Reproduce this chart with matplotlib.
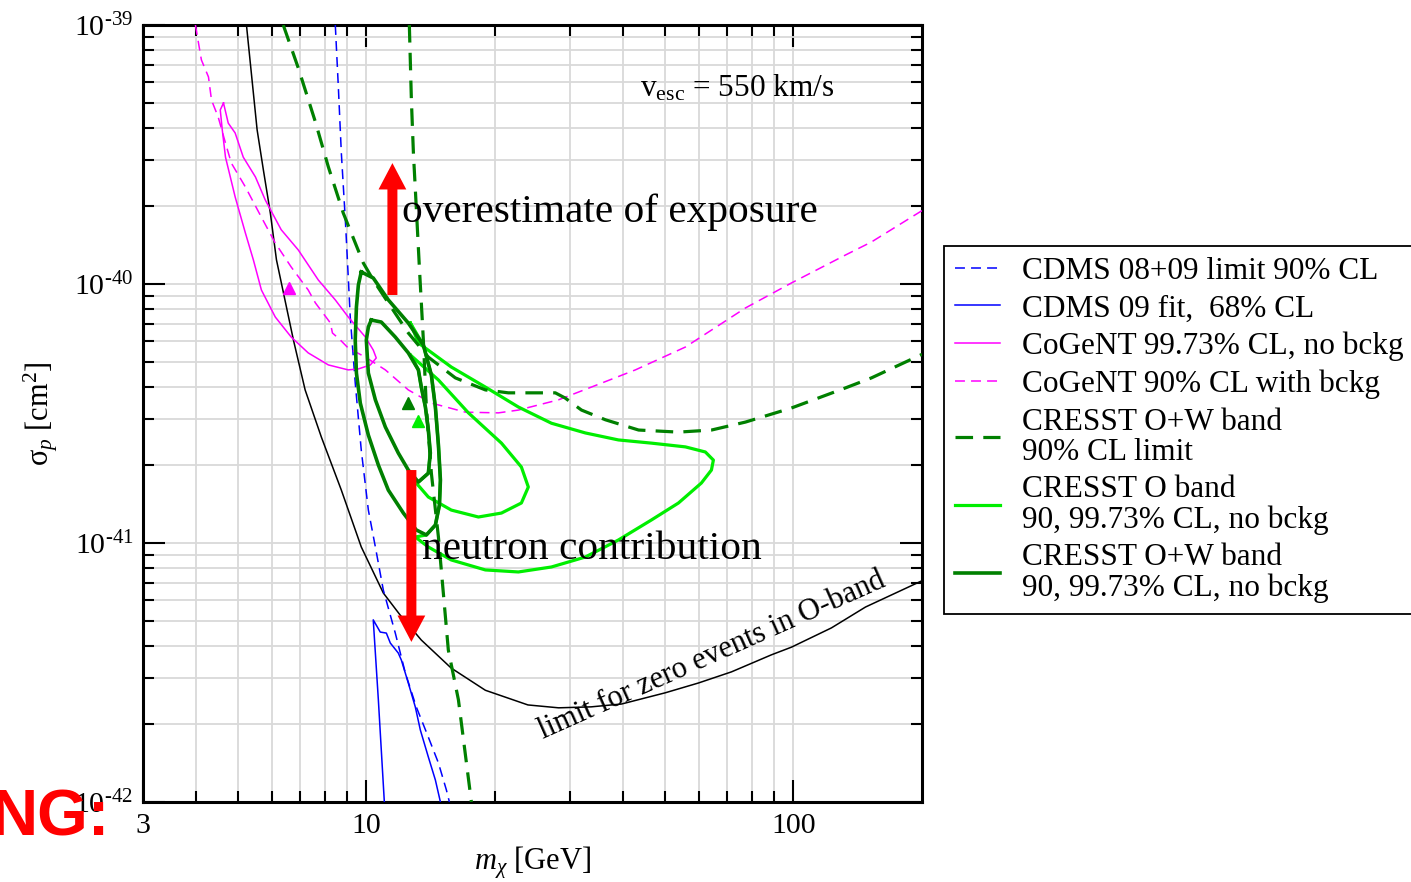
import numpy as np
import matplotlib
matplotlib.use("Agg")
import matplotlib.pyplot as plt
from matplotlib.ticker import FixedLocator, FixedFormatter, NullFormatter

plt.rcParams['font.family'] = ['Liberation Serif', 'DejaVu Serif']
plt.rcParams['mathtext.fontset'] = 'custom'
plt.rcParams['mathtext.rm'] = 'Liberation Serif'
plt.rcParams['mathtext.it'] = 'Liberation Serif:italic'
plt.rcParams['mathtext.bf'] = 'Liberation Serif:bold'

# cross sections are given in units of 1e-40 cm^2, masses in GeV
UNIT = 1e-40

# limit for zero events in the O-band (black)
zero_m = [5.24, 5.55, 5.74, 5.96, 6.16, 6.75, 7.19, 7.85, 8.74, 9.73, 10.96, 12.0, 13.45,
          15.8, 19.0, 23.9, 28.2, 33.6, 39.6, 50.1, 59.9, 71.6, 88.8, 98.9, 122.7, 147.5, 200]
zero_s = [10.0, 3.94, 2.76, 1.88, 1.24, 0.608, 0.390, 0.256, 0.160, 0.0966, 0.0641, 0.0527,
          0.0422, 0.0329, 0.0270, 0.0237, 0.0231, 0.0233, 0.0239, 0.0264, 0.0288, 0.0318,
          0.0370, 0.0396, 0.0470, 0.0566, 0.0715]

# CDMS 08+09 limit, 90% CL
cdms_lim_m = [8.46, 8.60, 8.74, 8.93, 9.03, 9.17, 9.42, 9.73, 10.11, 10.50, 10.96, 11.69,
              12.34, 13.09, 13.97, 14.75, 15.40, 15.65]
cdms_lim_s = [10.0, 5.76, 3.20, 1.77, 1.238, 0.746, 0.415, 0.2286, 0.134, 0.0965, 0.0658,
              0.0449, 0.0315, 0.0233, 0.0178, 0.01415, 0.01112, 0.01]

# CDMS 09 fit, 68% CL
cdms_fit_m = [11.02, 10.67, 10.38, 10.78, 11.14, 11.38, 11.88, 12.08, 12.54, 13.02, 13.38,
              13.97, 14.51, 14.91]
cdms_fit_s = [0.01, 0.0248, 0.0505, 0.0453, 0.0449, 0.0411, 0.0376, 0.0353, 0.0288, 0.0233,
              0.01897, 0.01492, 0.01216, 0.01]

# CoGeNT 99.73% CL, no background
cogent_m = [4.63, 4.75, 4.93, 5.15, 5.50, 5.80, 6.32, 6.93, 7.72, 8.46, 9.07, 9.95, 10.38,
            10.55, 10.22, 9.58, 9.07, 8.15, 7.31, 6.67, 6.12, 5.68, 5.44, 5.21, 4.93, 4.68,
            4.60, 4.55, 4.63]
cogent_s = [5.00, 4.18, 3.83, 3.09, 2.59, 2.11, 1.62, 1.353, 1.036, 0.868, 0.746, 0.624,
            0.556, 0.518, 0.487, 0.470, 0.466, 0.487, 0.542, 0.624, 0.746, 0.948, 1.238,
            1.574, 2.17, 3.09, 3.93, 4.70, 5.00]

# CoGeNT 90% CL with background
cogent_bg_m = [3.98, 4.11, 4.27, 4.34, 4.50, 4.68, 4.83, 5.21, 5.68, 6.12, 6.67, 7.31, 7.60,
               8.24, 8.33, 8.69, 9.07, 9.95, 11.08, 12.54, 14.20, 17.06, 20.38, 22.70, 28.17,
               33.65, 42.66, 55.86, 77.2, 98.9, 132.4, 152.3, 200]
cogent_bg_s = [10.0, 7.33, 6.30, 5.13, 4.41, 3.50, 2.93, 2.37, 1.81, 1.44, 1.163, 0.948,
               0.845, 0.707, 0.647, 0.608, 0.566, 0.522, 0.466, 0.390, 0.347, 0.320, 0.318,
               0.326, 0.357, 0.400, 0.466, 0.571, 0.808, 1.009, 1.294, 1.453, 1.92]

# CRESST O+W band, 90% CL limit (two branches)
cresst_lim_m = [6.39, 6.93, 7.60, 8.15, 8.83, 9.84, 10.38, 11.26, 12.54, 13.97, 16.16, 19.0,
                21.5, 25.7, 27.7, 29.2, 31.9, 36.3, 43.4, 53.8, 64.3, 77.2, 98.9, 132.4,
                152.3, 200]
cresst_lim_s = [10.0, 6.82, 4.22, 2.83, 1.88, 1.205, 1.036, 0.845, 0.647, 0.522, 0.434,
                0.390, 0.380, 0.380, 0.380, 0.363, 0.326, 0.299, 0.273, 0.268, 0.273, 0.293,
                0.332, 0.397, 0.434, 0.535]
cresst_lim2_m = [12.61, 12.75, 12.89, 13.09, 13.31, 13.60, 13.82, 14.20, 14.75, 15.56,
                 16.43, 17.62]
cresst_lim2_s = [10.0, 5.13, 3.20, 1.98, 1.163, 0.608, 0.335, 0.186, 0.1055, 0.0386,
                 0.0248, 0.01]

# CRESST O band, 99.73% and 90% CL contours
o_outer_m = [12.68, 13.24, 15.81, 19.00, 22.70, 27.13, 32.58, 38.92, 46.50, 55.86, 62.2,
             64.95, 64.27, 60.87, 53.80, 46.50, 38.92, 32.58, 27.13, 22.70, 19.00, 15.81,
             13.97, 13.02, 13.82, 14.51, 14.83, 14.91, 14.75, 14.51, 14.20, 13.60, 12.68]
o_outer_s = [0.707, 0.592, 0.478, 0.400, 0.335, 0.290, 0.266, 0.250, 0.243, 0.235, 0.2246,
             0.209, 0.1913, 0.1704, 0.1427, 0.1227, 0.1027, 0.0883, 0.0808, 0.0773, 0.0787,
             0.0860, 0.0965, 0.1055, 0.1074, 0.1173, 0.140, 0.175, 0.239, 0.335, 0.445,
             0.581, 0.707]
o_inner_m = [12.68, 14.75, 17.34, 20.72, 23.07, 23.95, 23.07, 20.72, 18.30, 15.81, 13.97,
             13.09, 13.24, 13.97, 14.12, 13.97, 13.75, 13.45, 13.24, 12.68]
o_inner_s = [0.532, 0.426, 0.318, 0.243, 0.1965, 0.1645, 0.1427, 0.1305, 0.126, 0.134,
             0.1505, 0.1704, 0.172, 0.186, 0.2226, 0.273, 0.335, 0.400, 0.466, 0.532]

# CRESST O+W band, 99.73% and 90% CL contours
ow_outer_m = [9.73, 10.38, 11.26, 12.54, 13.60, 14.20, 14.51, 14.75, 14.91, 14.83, 14.51,
              13.82, 13.09, 12.21, 11.26, 10.67, 10.11, 9.68, 9.48, 9.42, 9.48, 9.58, 9.73]
ow_outer_s = [1.113, 1.055, 0.868, 0.707, 0.581, 0.445, 0.335, 0.239, 0.175, 0.140, 0.1173,
              0.1074, 0.1123, 0.1305, 0.160, 0.200, 0.261, 0.347, 0.453, 0.608, 0.815, 0.991,
              1.113]
ow_inner_m = [10.27, 10.84, 11.69, 12.54, 13.24, 13.45, 13.75, 13.97, 14.12, 13.97, 13.24,
              12.54, 11.88, 11.08, 10.50, 10.11, 10.00, 10.11, 10.27]
ow_inner_s = [0.726, 0.713, 0.624, 0.542, 0.466, 0.400, 0.335, 0.273, 0.2226, 0.186, 0.172,
              0.1913, 0.2226, 0.2805, 0.357, 0.453, 0.608, 0.682, 0.726]

# best-fit points (mass, cross section)
cogent_best = (6.60, 0.965)
ow_best = (12.54, 0.347)
o_best = (13.24, 0.296)

# arrows: mass, tail and head cross section
arrow_up = (11.51, 0.907, 2.93)
arrow_down = (12.75, 0.1913, 0.0415)

x_major = [3, 10, 100]
x_major_labels = ['3', '10', '100']
y_major = [1e-42, 1e-41, 1e-40, 1e-39]
y_major_labels = [r'$10^{\text{-}42}$', r'$10^{\text{-}41}$', r'$10^{\text{-}40}$',
                  r'$10^{\text{-}39}$']


def s(vals):
    return np.asarray(vals) * UNIT


fig = plt.figure(figsize=(14.11, 8.82), dpi=100)
ax = fig.add_axes([143 / 1411, 80 / 882, 779 / 1411, 777 / 882])
ax.set_xscale('log')
ax.set_yscale('log')
ax.set_xlim(3, 200)
ax.set_ylim(1e-42, 1e-39)

BLUE = '#0000ff'
MAG = '#ff00ff'
LIME = '#00ee00'
DGREEN = '#008000'

ax.plot(zero_m, s(zero_s), color='black', lw=1.1, zorder=3)
l_cdms_lim, = ax.plot(cdms_lim_m, s(cdms_lim_s), color=BLUE, lw=1.1, dashes=(6.5, 4),
                      label='CDMS 08+09 limit 90% CL', zorder=3)
l_cdms_fit, = ax.plot(cdms_fit_m, s(cdms_fit_s), color=BLUE, lw=1.1,
                      label='CDMS 09 fit,  68% CL', zorder=3)
l_cog, = ax.plot(cogent_m, s(cogent_s), color=MAG, lw=1.1,
                 label='CoGeNT 99.73% CL, no bckg', zorder=3)
l_cog_bg, = ax.plot(cogent_bg_m, s(cogent_bg_s), color=MAG, lw=1.1, dashes=(6.5, 4),
                    label='CoGeNT 90% CL with bckg', zorder=3)
l_o, = ax.plot(o_outer_m, s(o_outer_s), color=LIME, lw=2.3,
               label='CRESST O band\n90, 99.73% CL, no bckg', zorder=4)
ax.plot(o_inner_m, s(o_inner_s), color=LIME, lw=2.3, zorder=4)
l_lim, = ax.plot(cresst_lim_m, s(cresst_lim_s), color=DGREEN, lw=2.3, dashes=(5.5, 3.2),
                 label='CRESST O+W band\n90% CL limit', zorder=5)
ax.plot(cresst_lim2_m, s(cresst_lim2_s), color=DGREEN, lw=2.3, dashes=(5.5, 3.2), zorder=5)
l_ow, = ax.plot(ow_outer_m, s(ow_outer_s), color=DGREEN, lw=2.6,
                label='CRESST O+W band\n90, 99.73% CL, no bckg', zorder=5)
ax.plot(ow_inner_m, s(ow_inner_s), color=DGREEN, lw=2.6, zorder=5)

ax.plot(cogent_best[0], cogent_best[1] * UNIT, marker='^', ms=9, color=MAG, ls='none', zorder=6)
ax.plot(ow_best[0], ow_best[1] * UNIT, marker='^', ms=9, color=DGREEN, ls='none', zorder=6)
ax.plot(o_best[0], o_best[1] * UNIT, marker='^', ms=9, color=LIME, ls='none', zorder=6)

arrow_kw = dict(arrowstyle='simple,head_length=19,head_width=20,tail_width=7.2',
                mutation_scale=1, color='#ff0000', shrinkA=0, shrinkB=0, lw=0)
for xm, y0, y1 in (arrow_up, arrow_down):
    ax.annotate('', xy=(xm, y1 * UNIT), xytext=(xm, y0 * UNIT), arrowprops=arrow_kw, zorder=7)

ax.text(12.14, 1.897 * UNIT, 'overestimate of exposure', fontsize=29.8,
        ha='left', va='center', zorder=8)
ax.text(13.52, 0.094 * UNIT, 'neutron contribution', fontsize=29.8,
        ha='left', va='center', zorder=8)
ax.text(43.8, 5.71 * UNIT, r'v$_{\rm esc}$ = 550 km/s', fontsize=22.5, ha='left', va='center')
ax.text(64.6, 0.0369 * UNIT, 'limit for zero events in O-band', fontsize=22, rotation=24,
        rotation_mode='anchor', ha='center', va='center')

# axes, ticks and grid
ax.xaxis.set_major_locator(FixedLocator(x_major))
ax.xaxis.set_major_formatter(FixedFormatter(x_major_labels))
ax.xaxis.set_minor_locator(FixedLocator([4, 5, 6, 7, 8, 9, 20, 30, 40, 50, 60, 70, 80, 90]))
ax.xaxis.set_minor_formatter(NullFormatter())
ax.yaxis.set_major_locator(FixedLocator(y_major))
ax.yaxis.set_major_formatter(FixedFormatter(y_major_labels))
ax.yaxis.set_minor_locator(FixedLocator([k * 10.0 ** e for e in (-42, -41, -40) for k in range(2, 10)]))
ax.yaxis.set_minor_formatter(NullFormatter())

ax.tick_params(which='both', direction='in', top=True, right=True, width=1.5, color='black')
ax.tick_params(which='major', length=16, labelsize=21.5)
ax.tick_params(which='minor', length=8)
ax.tick_params(axis='x', which='major', pad=8)
ax.tick_params(axis='y', which='major', pad=7)
ax.grid(True, which='both', color='#d9d9d9', lw=1.3)
ax.set_axisbelow(True)
for sp in ax.spines.values():
    sp.set_linewidth(2.2)

ax.set_xlabel(r'$m_{\chi}$ [GeV]', fontsize=22, labelpad=4)
ax.set_ylabel(r'σ$_{p}$ [cm$^{2}$]', fontsize=22, labelpad=10)

leg = ax.legend(handles=[l_cdms_lim, l_cdms_fit, l_cog, l_cog_bg, l_lim, l_o, l_ow],
                loc='upper left', bbox_to_anchor=(944 / 1411, 1 - 246 / 882),
                bbox_transform=fig.transFigure, borderaxespad=0, fontsize=22.5,
                handlelength=1.45, handletextpad=0.7, borderpad=0.35, labelspacing=0.27,
                frameon=True, fancybox=False, framealpha=1, edgecolor='black')
leg.get_frame().set_linewidth(1.3)
for t in leg.get_texts():
    t.set_linespacing(1.05)

fig.text(110 / 1411, 1 - 835 / 882, 'NG:', color='#ff0000', fontsize=47, fontweight='bold',
         family='Liberation Sans', ha='right', va='baseline', zorder=10)

fig.savefig('out.png', dpi=100)
